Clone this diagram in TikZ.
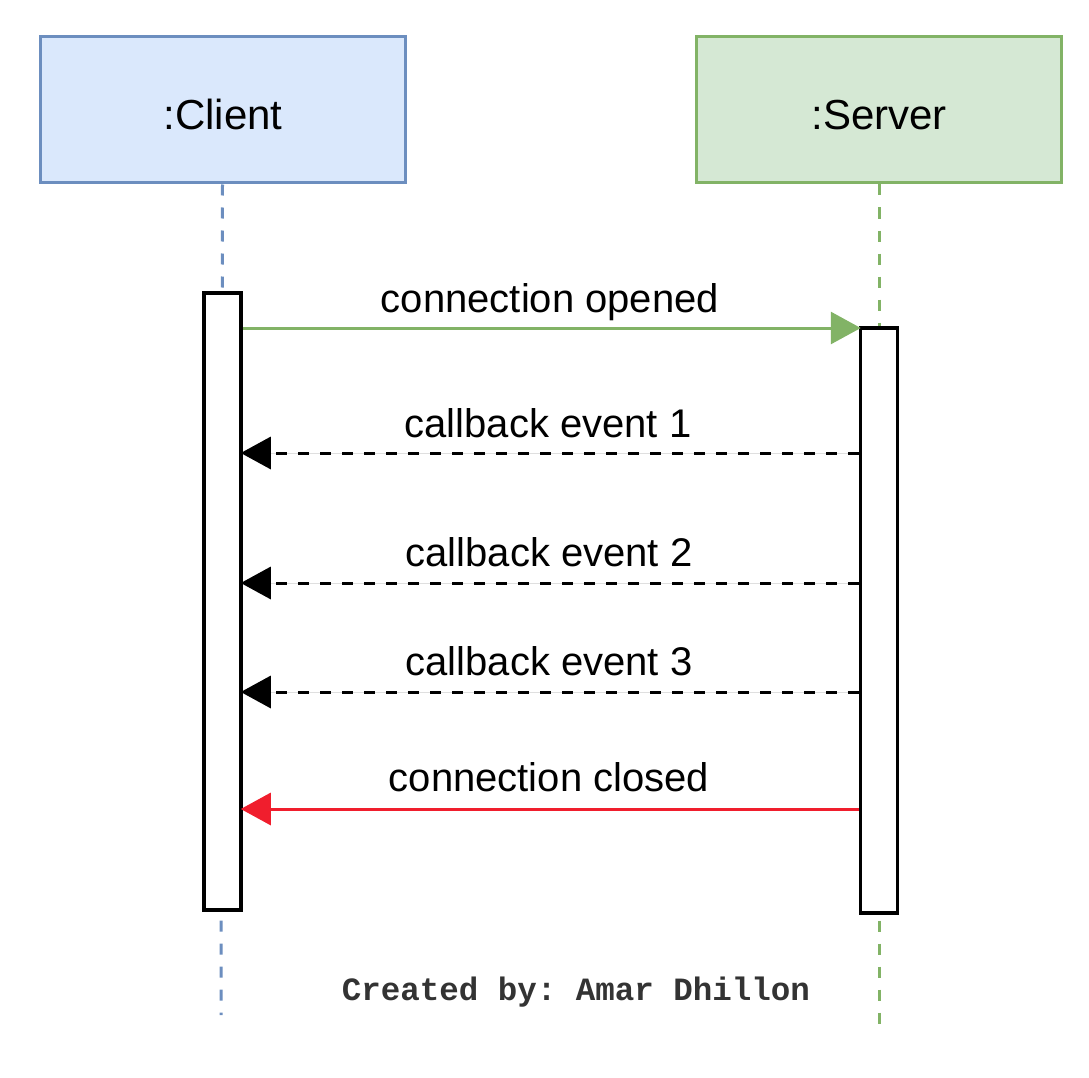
\documentclass[tikz,border=0pt]{standalone}
\usepackage{fontspec}
\setmainfont{Liberation Sans}
\newfontfamily\monobold{Liberation Mono}
\usetikzlibrary{arrows.meta}
\definecolor{clientfill}{HTML}{DAE8FC}
\definecolor{clientline}{HTML}{6C8EBF}
\definecolor{serverfill}{HTML}{D5E8D4}
\definecolor{serverline}{HTML}{82B366}
\definecolor{msgred}{RGB}{240,30,45}
\definecolor{footgray}{HTML}{333333}
\frenchspacing
\tikzset{
  x=1pt, y=-1pt,
  actor/.style={draw, line width=3pt, minimum width=365pt, minimum height=146pt, inner sep=0pt},
  actortext/.style={anchor=base, inner sep=0pt, font=\fontsize{42}{48}\selectfont},
  lifeline/.style={line width=3pt, dash pattern=on 11pt off 12pt},
  actbox/.style={draw=black, fill=white, line width=3.5pt, minimum width=37pt, inner sep=0pt},
  msg/.style={line width=3pt, -{Triangle[length=30pt,width=32pt]}},
  retmsg/.style={msg, dash pattern=on 11pt off 11pt},
  msglabel/.style={anchor=base, font=\fontsize{40}{46}\selectfont, inner sep=0pt},
}
\begin{document}
\begin{tikzpicture}
\useasboundingbox (0,0) rectangle (1089,1078);
% actors
\node[actor, draw=clientline, fill=clientfill] (client) at (222.5,110) {};
\node[actor, draw=serverline, fill=serverfill] (server) at (879,110) {};
\node[actortext] (clientlabel) at (223,130) {:Client};
\node[actortext] (serverlabel) at (879,130) {:Server};
% lifeline ends
\coordinate (cend) at (221,1015);
\coordinate (send) at (879,1025);
\draw[lifeline, draw=clientline] (client.south) -- (cend);
\draw[lifeline, draw=serverline] (server.south) -- (send);
% activations
\node[actbox, minimum height=617pt] (ca) at (222.5,601.5) {};
\node[actbox, minimum height=585pt] (sa) at (879,620.5) {};
% message levels
\coordinate (m1) at (0,328);
\coordinate (m2) at (0,453);
\coordinate (m3) at (0,583);
\coordinate (m4) at (0,692);
\coordinate (m5) at (0,809);
\draw[msg, draw=serverline, fill=serverline, shorten >=-2pt] (ca.east |- m1) -- (sa.west |- m1);
\draw[retmsg, draw=black, fill=black, shorten >=-2pt] (sa.west |- m2) -- (ca.east |- m2);
\draw[retmsg, draw=black, fill=black, shorten >=-2pt] (sa.west |- m3) -- (ca.east |- m3);
\draw[retmsg, draw=black, fill=black, shorten >=-2pt] (sa.west |- m4) -- (ca.east |- m4);
\draw[msg, draw=msgred, fill=msgred, shorten >=-2pt] (sa.west |- m5) -- (ca.east |- m5);
% labels
\node[msglabel] (l1) at (550,312) {connection opened};
\node[msglabel] (l2) at (548,437) {callback event 1};
\node[msglabel] (l3) at (549,566) {callback event 2};
\node[msglabel] (l4) at (549,675) {callback event 3};
\node[msglabel] (l5) at (549,791) {connection closed};
% footer
\node[anchor=base, inner sep=0pt, text=footgray, font=\monobold\bfseries\fontsize{32.5}{38}\selectfont] (foot) at (576,1000) {Created by: Amar Dhillon};
\end{tikzpicture}
\end{document}
